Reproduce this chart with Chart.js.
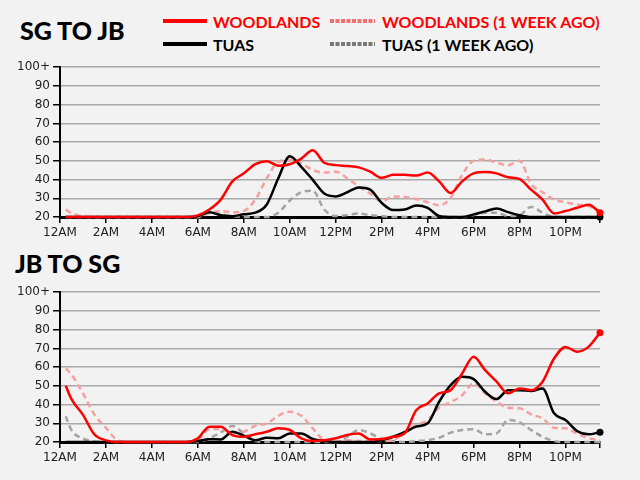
<!DOCTYPE html>
<html>
<head>
<meta charset="utf-8">
<script src="https://cdn.jsdelivr.net/npm/chart.js@4"></script>
<style>
  body { margin: 0; background: #f2f2f2; width: 640px; height: 480px; position: relative; overflow: hidden; }
  .title { position: absolute; font: 900 25px Lato, sans-serif; color: #000; line-height: 1; }
  .lg { position: absolute; font: 700 16px Lato, sans-serif; line-height: 1; white-space: nowrap; }
  .red { color: #ff0000; }
  .blk { color: #000; }
  svg.keys { position: absolute; left: 0; top: 0; }
  canvas { position: absolute; left: 0; }
</style>
</head>
<body>
<div class="title" style="left:20px; top:18px;">SG TO JB</div>
<div class="title" style="left:15px; top:251px;">JB TO SG</div>

<svg class="keys" width="640" height="60">
  <line x1="163" y1="21" x2="207" y2="21" stroke="#ff0000" stroke-width="4"/>
  <line x1="163" y1="44" x2="207" y2="44" stroke="#000" stroke-width="4"/>
  <line x1="330" y1="21" x2="375" y2="21" stroke="#f07070" stroke-width="4" stroke-dasharray="4 1.5"/>
  <line x1="330" y1="44" x2="375" y2="44" stroke="#777" stroke-width="4" stroke-dasharray="4 1.5"/>
</svg>
<div class="lg red" style="left:213px; top:14px;">WOODLANDS</div>
<div class="lg blk" style="left:213px; top:37px;">TUAS</div>
<div class="lg red" style="left:382px; top:14px;">WOODLANDS (1 WEEK AGO)</div>
<div class="lg blk" style="left:382px; top:37px;">TUAS (1 WEEK AGO)</div>

<canvas id="sgjb" width="640" height="190" style="top:57px;"></canvas>
<canvas id="jbsg" width="640" height="190" style="top:282px;"></canvas>

<script>
// hour of day for every reading (last one is 23:30)
const hours = [0.25, 0.5, 1, 1.5, 2, 2.5, 3, 3.5, 4, 4.5, 5, 5.5,
  6, 6.5, 7, 7.5, 8, 8.5, 9, 9.5, 10, 10.5,
  11, 11.5, 12, 12.5, 13, 13.5, 14, 14.5,
  15, 15.5, 16, 16.5, 17, 17.5, 18, 18.5, 19, 19.5,
  20, 20.5, 21, 21.5, 22, 22.5, 23, 23.5];

const hourTicks = [0, 2, 4, 6, 8, 10, 12, 14, 16, 18, 20, 22, 23.5];
const hourLabels = ['12AM', '2AM', '4AM', '6AM', '8AM', '10AM', '12PM', '2PM', '4PM', '6PM', '8PM', '10PM', ''];
const waitTicks = [20, 30, 40, 50, 60, 70, 80, 90, 100];
const waitLabels = ['20', '30', '40', '50', '60', '70', '80', '90', '100+'];

// SG -> JB
const sgWoodlands = [20, 20, 20, 20, 20, 20, 20, 20, 20, 20, 20, 20,
  20.9, 24, 29.3, 39, 43.3, 48.2, 49.8, 47.4, 48.2, 51.2,
  55.6, 49, 47.7, 47.2, 46.5, 44.2, 40.9, 42.5,
  42.5, 42.1, 43.7, 39, 32.8, 39, 43.3, 44, 43.3, 41.2,
  40.2, 34.6, 29.3, 21.9, 23.2, 24.9, 26.5, 22.3];
const sgWoodlandsWeekAgo = [24, 22, 20.3, 20, 20, 20, 20, 20, 20, 20, 20, 20,
  20, 22, 23.2, 22.6, 23.2, 29.3, 40.7, 49.5, 50.4, 48.6,
  45.1, 43.7, 44.2, 40.7, 36.3, 32.5, 28.4, 31,
  30.7, 29.6, 27.9, 26.3, 30.2, 42.5, 50, 50.7, 49, 47.7,
  50, 37.7, 33.2, 29.3, 27.9, 26.7, 25.8, 23.2];
const sgTuas = [20, 20, 20, 20, 20, 20, 20, 20, 20, 20, 20, 20,
  20.4, 22.5, 21, 20.4, 21.5, 22.3, 26.7, 40.7, 52.5, 46.8,
  39.8, 32.5, 31, 33.2, 35.8, 34.6, 27.5, 23.7,
  24, 26.1, 24.9, 20.5, 20, 20, 21.4, 23, 24.5, 22.6,
  20.9, 20, 20, 20, 20, 20, 20, 20];
const sgTuasWeekAgo = [20, 20, 20, 20, 20, 20, 20, 20, 20, 20, 20, 20,
  20, 23, 21.5, 20.5, 20, 20, 20, 22.3, 28.8, 33.2,
  34, 24, 20.5, 21, 21.9, 21, 20.5, 20,
  20, 20, 20, 20, 20, 20, 21, 22.3, 22.3, 20.5,
  21, 25.4, 22.3, 20, 20, 20, 20, 20];

// JB -> SG
const jbWoodlands = [50, 42.9, 34.5, 24, 20.9, 20, 20, 20, 20, 20, 20, 20,
  22, 28.2, 28.2, 23.7, 22.8, 24.1, 25.5, 27.3, 26.4, 21.9,
  20.5, 20.9, 22, 23.7, 24.5, 21.4, 21.6, 22.8,
  24.6, 37, 40.6, 46, 47.7, 56.6, 65.5, 58.4, 52.2, 46,
  48.6, 47.7, 52.2, 64.6, 70.8, 68.2, 70.8, 78.3];
const jbWoodlandsWeekAgo = [59.3, 56, 46, 34.6, 27.5, 21, 20, 20, 20, 20, 20, 20,
  21, 26.9, 27, 24.6, 25.5, 28.7, 29.9, 34, 36.2, 34,
  27.3, 20.9, 20, 21, 20.5, 20.5, 20.5, 21,
  25.5, 29, 31.7, 38.3, 41.2, 45, 51.3, 46, 41.5, 38.3,
  38, 34.8, 32.6, 27.6, 27.3, 24.6, 22, 21];
const jbTuas = [20, 20, 20, 20, 20, 20, 20, 20, 20, 20, 20, 20,
  20.5, 21.5, 21.4, 25.5, 23.4, 20.9, 22.3, 22, 24.6, 24.6,
  21.6, 20.5, 20, 20, 20, 20, 21, 22.8,
  25.2, 28.2, 30, 41.5, 50.4, 54.8, 53.6, 46.8, 42.9, 47.7,
  47.7, 47.2, 48.6, 35.3, 31.7, 25.9, 24.1, 25.2];
const jbTuasWeekAgo = [33.8, 26.3, 21.8, 20.3, 20, 20, 20, 20, 20, 20, 20, 20,
  20, 22, 25.1, 28.5, 24.6, 20.5, 20, 20, 20, 20,
  20, 20, 20, 22.8, 26.4, 24.6, 21.6, 20.5,
  20, 20.5, 21, 22.3, 25, 26.4, 26.8, 24.1, 24.6, 31.7,
  30.5, 26.4, 22.8, 20.5, 20, 20, 20, 20];

const tickFont = { family: 'DejaVu Sans', size: 12 };

function toPoints(values) {
  return hours.map((h, i) => ({ x: h, y: values[i] }));
}

function lineSet(label, values, color, dashed, order) {
  const last = values.length - 1;
  return {
    label: label,
    data: toPoints(values),
    borderColor: color,
    backgroundColor: color,
    borderWidth: 2.5,
    borderDash: dashed ? [6, 4] : [],
    cubicInterpolationMode: 'monotone',
    pointRadius: dashed ? 0 : (ctx => ctx.dataIndex === last ? 3.5 : 0),
    pointBorderWidth: 0,
    clip: false,
    order: order
  };
}

function makeChart(id, woodlands, woodlandsWk, tuas, tuasWk) {
  const ctx = document.getElementById(id).getContext('2d');
  return new Chart(ctx, {
    type: 'line',
    data: {
      datasets: [
        lineSet('WOODLANDS', woodlands, '#ff0000', false, 0),
        lineSet('TUAS', tuas, '#000000', false, 1),
        lineSet('WOODLANDS (1 WEEK AGO)', woodlandsWk, '#f5a0a0', true, 2),
        lineSet('TUAS (1 WEEK AGO)', tuasWk, '#a3a3a3', true, 3)
      ]
    },
    options: {
      responsive: false,
      animation: false,
      layout: { padding: { top: 10, right: 40, left: 0, bottom: 0 } },
      plugins: { legend: { display: false }, tooltip: { enabled: false } },
      scales: {
        x: {
          type: 'linear',
          min: 0,
          max: 23.5,
          afterBuildTicks: s => { s.ticks = hourTicks.map(v => ({ value: v })); },
          afterFit: s => { s.height = 30; },
          ticks: {
            callback: (v, i) => hourLabels[i],
            font: tickFont,
            color: '#222',
            padding: 3,
            maxRotation: 0,
            autoSkip: false
          },
          grid: { drawOnChartArea: false, color: '#000', tickColor: '#000', tickLength: 6, lineWidth: 1.5 },
          border: { color: '#000', width: 3 }
        },
        y: {
          min: 20,
          max: 100,
          afterBuildTicks: s => { s.ticks = waitTicks.map(v => ({ value: v })); },
          afterFit: s => { s.width = 60; },
          ticks: {
            callback: (v, i) => waitLabels[i],
            font: tickFont,
            color: '#222',
            padding: 3
          },
          grid: { color: '#a9a9a9', lineWidth: 1.5, tickColor: '#000', tickLength: 7 },
          border: { color: '#000', width: 2 }
        }
      }
    }
  });
}

makeChart('sgjb', sgWoodlands, sgWoodlandsWeekAgo, sgTuas, sgTuasWeekAgo);
makeChart('jbsg', jbWoodlands, jbWoodlandsWeekAgo, jbTuas, jbTuasWeekAgo);
</script>
</body>
</html>
